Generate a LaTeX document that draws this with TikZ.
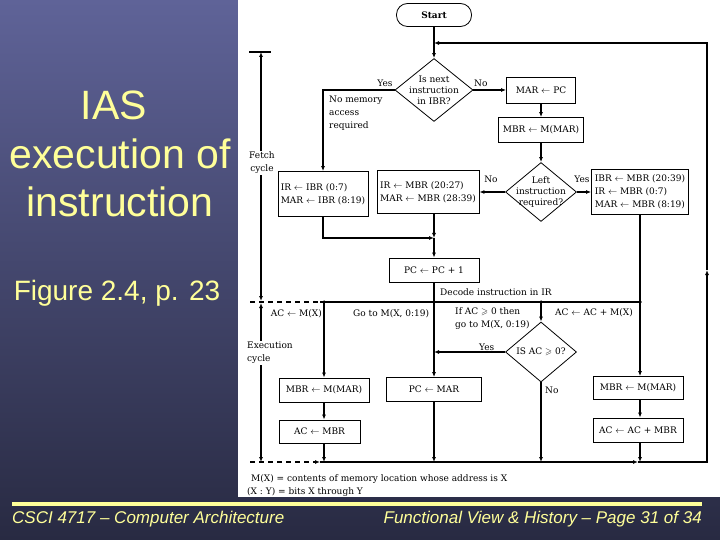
\documentclass[tikz,border=0pt]{standalone}
\usepackage{amssymb}
\usepackage{graphicx}
\usepackage{fontspec}
\newfontfamily\slidefont{Liberation Sans}
\newfontfamily\scanserif{DejaVu Serif}
\usetikzlibrary{shapes.geometric,arrows.meta}
\definecolor{bgtop}{HTML}{5F6398}
\definecolor{bgmid}{HTML}{4A4D7C}
\definecolor{bgbot}{HTML}{282A42}
\definecolor{slideyellow}{HTML}{FFFF99}
\newcommand{\scanfont}{\scanserif\fontsize{9bp}{13bp}\selectfont}
\newcommand{\diafont}{\scanserif\fontsize{9bp}{11bp}\selectfont}
\begin{document}
\begin{tikzpicture}[x=1bp,y=-1bp,
  conn/.style={line width=1.3bp},
  arr/.style={conn,-{Latex[length=5bp,width=4bp]}},
  twoarr/.style={conn,{Latex[length=5bp,width=4bp]}-{Latex[length=5bp,width=4bp]}},
  fbox/.style={draw,line width=0.8bp,rectangle,inner sep=0pt,align=center,font=\scanfont},
  fboxl/.style={fbox,align=left},
  dia/.style={draw,line width=0.8bp,diamond,inner sep=0pt},
  ttext/.style={font=\diafont,inner sep=0pt,align=center},
  lbl/.style={font=\scanfont,inner sep=0pt},
  jdot/.style={circle,fill,inner sep=0pt,minimum size=3.5bp},
  dashline/.style={dash pattern=on 5bp off 4bp},
  slidetext/.style={text=slideyellow,inner sep=0pt}
]
\useasboundingbox (0,0) rectangle (720,540);
% background
\shade[top color=bgtop,middle color=bgmid,bottom color=bgbot] (0,0) rectangle (720,540);
\fill[white] (238,0) rectangle (720,497);
\fill[slideyellow] (12,502) rectangle (702,506);

% slide texts
\node[slidetext,anchor=base,font=\slidefont\fontsize{41bp}{48bp}\selectfont] (title1) at (114,120) {IAS};
\node[slidetext,anchor=base,font=\slidefont\fontsize{41bp}{48bp}\selectfont] (title2) at (120,169) {execution of};
\node[slidetext,anchor=base,font=\slidefont\fontsize{41bp}{48bp}\selectfont] (title3) at (120,217) {instruction};
\node[slidetext,anchor=base,font=\slidefont\fontsize{28bp}{32bp}\selectfont] (fig) at (117,300) {Figure 2.4, p. 23};
\node[slidetext,anchor=base west,font=\slidefont\itshape\fontsize{17bp}{20bp}\selectfont] (foot1) at (12,523) {CSCI 4717 – Computer Architecture};
\node[slidetext,anchor=base east,font=\slidefont\itshape\fontsize{17bp}{20bp}\selectfont] (foot2) at (702,523) {Functional View \& History – Page 31 of 34};

% fetch part
\node[draw,line width=0.8bp,rounded corners=11bp,minimum width=75bp,minimum height=23bp,inner sep=0pt,font=\scanfont\bfseries] (start) at (434,15) {Start};
\node[dia,minimum width=78bp,minimum height=63bp] (d1) at (434,90) {};
\node[ttext] (d1t) at (d1.center) {Is next\\instruction\\in IBR?};
\node[fbox,minimum width=69bp,minimum height=26bp] (marpc) at (541,90) {MAR $\leftarrow$ PC};
\node[fbox,minimum width=85bp,minimum height=25bp] (mbr1) at (541,130) {MBR $\leftarrow$ M(MAR)};
\node[dia,minimum width=71bp,minimum height=59bp] (d2) at (541,192) {};
\node[ttext] (d2t) at (d2.center) {Left\\instruction\\required?};
\node[fboxl,minimum width=97bp,minimum height=45bp] (ibrbox) at (640,192) {IBR $\leftarrow$ MBR (20:39)\\IR $\leftarrow$ MBR (0:7)\\MAR $\leftarrow$ MBR (8:19)};
\node[fboxl,minimum width=102bp,minimum height=43bp] (irmbr) at (428,192) {IR $\leftarrow$ MBR (20:27)\\MAR $\leftarrow$ MBR (28:39)};
\node[fboxl,minimum width=90bp,minimum height=45bp] (iribr) at (323,194) {IR $\leftarrow$ IBR (0:7)\\MAR $\leftarrow$ IBR (8:19)};
\node[fbox,minimum width=90bp,minimum height=24bp] (pcinc) at (434,270) {PC $\leftarrow$ PC + 1};

% execution part
\node[fbox,minimum width=90bp,minimum height=24bp] (mbr2) at (324,390) {MBR $\leftarrow$ M(MAR)};
\node[fbox,minimum width=81bp,minimum height=23bp] (acmbr) at (319.5,431.5) {AC $\leftarrow$ MBR};
\node[fbox,minimum width=95bp,minimum height=24bp] (pcmar) at (434,389.5) {PC $\leftarrow$ MAR};
\node[dia,minimum width=71bp,minimum height=60bp] (d3) at (541,352) {};
\node[ttext] (d3t) at (d3.center) {IS AC $\geqslant$ 0?};
\node[fbox,minimum width=90bp,minimum height=23bp] (mbr3) at (638,388) {MBR $\leftarrow$ M(MAR)};
\node[fbox,minimum width=90bp,minimum height=24bp] (acadd) at (638,430) {AC $\leftarrow$ AC + MBR};

% coordinates
\coordinate (m1) at (323,238);
\coordinate (m2) at (434,238);
\coordinate (decL) at (250,302);
\coordinate (decD) at (320,302);
\coordinate (j1) at (324,302);
\coordinate (j2) at (434,302);
\coordinate (j3) at (541,302);
\coordinate (j4) at (640,302);
\coordinate (botL) at (250,462);
\coordinate (botD) at (320,462);
\coordinate (b1) at (324,462);
\coordinate (b2) at (434,462);
\coordinate (b3) at (541,462);
\coordinate (b4) at (638,462);
\coordinate (bR) at (707,462);
\coordinate (rm) at (707,270);
\coordinate (tR) at (707,43);
\coordinate (tjoin) at (434,43);
\coordinate (ftl) at (249,52);
\coordinate (ftr) at (271,52);
\coordinate (ftop) at (261,52);
\coordinate (fbot) at (261,301);
\coordinate (etop) at (261,303);
\coordinate (ebot) at (261,462);

% fetch connectors
\draw[arr] (start) -- (d1);
\draw[arr] (d1.west) -- (d1.west -| iribr) -- (iribr);
\draw[arr] (d1.east) -- (marpc);
\draw[arr] (marpc) -- (mbr1);
\draw[arr] (mbr1) -- (d2);
\draw[arr] (d2.east) -- (ibrbox);
\draw[arr] (d2.west) -- (irmbr);
\draw[arr] (iribr.south) -- (m1) -- (m2);
\draw[arr] (irmbr.south -| m2) -- (m2);
\draw[arr] (m2) -- (pcinc);
\draw[conn] (pcinc) -- (j2);
\draw[conn] (ibrbox.south) -- (j4);
\draw[conn,dashline] (decL) -- (decD);
\draw[conn] (decD) -- (j4);
\foreach \j in {j1,j2,j3,j4} \node[jdot] (dot-\j) at (\j) {};

% execution connectors
\draw[arr] (j1) -- (mbr2);
\draw[arr] (mbr2.south) -- (mbr2.south |- acmbr.north);
\draw[arr] (acmbr.south -| b1) -- (b1);
\draw[arr] (j2) -- (pcmar);
\draw[arr] (pcmar) -- (b2);
\draw[arr] (j3) -- (d3);
\draw[arr] (d3.south) -- (b3);
\draw[arr] (d3.west) -- (d3.west -| j2);
\draw[arr] (j4) -- (mbr3.north -| j4);
\draw[arr] (mbr3.south -| j4) -- (acadd.north -| j4);
\draw[arr] (acadd.south -| j4) -- (b4 -| j4);

% return path
\draw[conn,dashline,-{Latex[length=5bp,width=4bp]}] (botL) -- (botD);
\draw[arr] (botD) -- (b4);
\draw[arr] (b4) -- (bR) -- (rm);
\draw[arr] (rm) -- (tR) -- (tjoin);

% cycle markers
\draw[conn] (ftl) -- (ftr);
\draw[twoarr] (ftop) -- (fbot);
\draw[twoarr] (etop) -- (ebot);
\node[lbl,fill=white,align=center,inner sep=1bp] (fetchlbl) at (262,163) {Fetch\\cycle};
\node[lbl,fill=white,align=left,inner sep=1bp,anchor=west] (execlbl) at (246,353) {Execution\\cycle};

% labels
\node[lbl,anchor=base] (yes1) at (385,87) {Yes};
\node[lbl,anchor=base west] (no1) at (474,87) {No};
\node[lbl,anchor=north west,align=left] (nomem) at (329,96) {No memory\\access\\required};
\node[lbl,anchor=base] (no2) at (491,183) {No};
\node[lbl,anchor=base] (yes2) at (582,183) {Yes};
\node[lbl,anchor=base west] (dec) at (440,295) {Decode instruction in IR};
\node[lbl,anchor=base east] (t1) at (322,316) {AC $\leftarrow$ M(X)};
\node[lbl,anchor=base west] (t2) at (353,316) {Go to M(X, 0:19)};
\node[lbl,anchor=north west,align=left] (t3) at (455,307) {If AC $\geqslant$ 0 then\\go to M(X, 0:19)};
\node[lbl,anchor=base west] (t4) at (555,315) {AC $\leftarrow$ AC + M(X)};
\node[lbl,anchor=base west] (yes3) at (479,350) {Yes};
\node[lbl,anchor=base west] (no3) at (545,393) {No};
\node[lbl,anchor=base west] (fn1) at (251,481) {M(X) = contents of memory location whose address is X};
\node[lbl,anchor=base west] (fn2) at (247,494) {(X : Y) = bits X through Y};
\end{tikzpicture}
\end{document}
